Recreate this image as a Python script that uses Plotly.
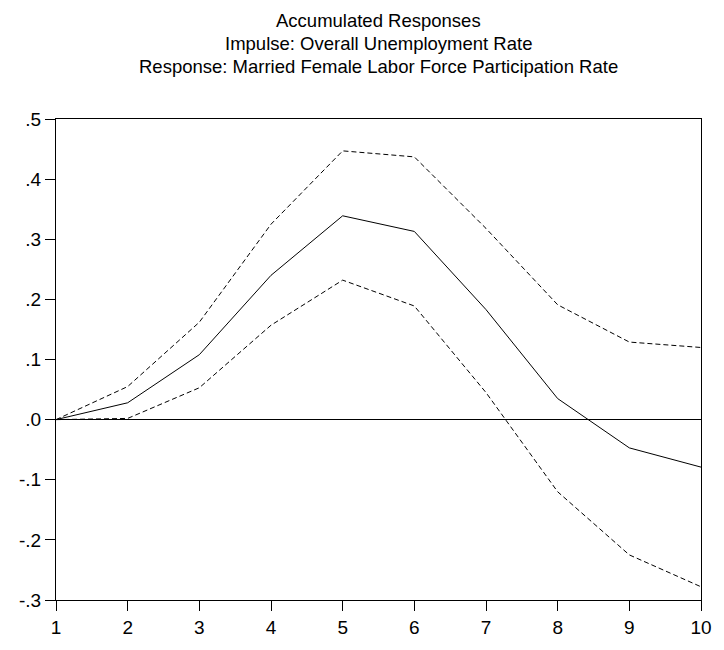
import plotly.graph_objects as go

periods = [1, 2, 3, 4, 5, 6, 7, 8, 9, 10]
response = [0.0, 0.028, 0.108, 0.240, 0.339, 0.313, 0.183, 0.035, -0.047, -0.079]
upper = [0.0, 0.055, 0.162, 0.325, 0.447, 0.437, 0.318, 0.191, 0.129, 0.120]
lower = [0.0, 0.002, 0.053, 0.157, 0.232, 0.189, 0.045, -0.120, -0.225, -0.278]

ytick_vals = [0.5, 0.4, 0.3, 0.2, 0.1, 0.0, -0.1, -0.2, -0.3]
ytick_text = [".5", ".4", ".3", ".2", ".1", ".0", "-.1", "-.2", "-.3"]

title_lines = [
    "Accumulated Responses",
    "Impulse: Overall Unemployment Rate",
    "Response: Married Female Labor Force Participation Rate",
]

fig = go.Figure()
fig.add_trace(go.Scatter(x=periods, y=upper, mode="lines",
                         line=dict(color="black", width=1, dash="5px,3px"),
                         showlegend=False, hoverinfo="skip"))
fig.add_trace(go.Scatter(x=periods, y=response, mode="lines",
                         line=dict(color="black", width=1),
                         showlegend=False))
fig.add_trace(go.Scatter(x=periods, y=lower, mode="lines",
                         line=dict(color="black", width=1, dash="5px,3px"),
                         showlegend=False, hoverinfo="skip"))

shifts = [99, 76, 53]
annotations = [dict(text=t, xref="paper", yref="paper", x=0.5, y=1,
                    xanchor="center", yanchor="middle", yshift=s,
                    showarrow=False, font=dict(size=18.5, color="black"))
               for t, s in zip(title_lines, shifts)]

fig.update_layout(
    width=724, height=650,
    margin=dict(l=56, r=17, t=119, b=42),
    paper_bgcolor="white", plot_bgcolor="white",
    font=dict(family="Liberation Sans, Arial, sans-serif", color="black"),
    annotations=annotations,
)
fig.update_xaxes(range=[1, 10], tickvals=periods, ticktext=[str(p) for p in periods],
                 showgrid=False, zeroline=False, showline=True, linecolor="black",
                 linewidth=1, mirror=True, ticks="outside", ticklen=10,
                 tickcolor="black", tickfont=dict(size=19))
fig.update_yaxes(range=[-0.3, 0.5], tickvals=ytick_vals, ticktext=ytick_text,
                 showgrid=False, zeroline=True, zerolinecolor="black", zerolinewidth=1,
                 showline=True, linecolor="black", linewidth=1, mirror=True,
                 ticks="outside", ticklen=10, tickcolor="black", tickfont=dict(size=19))

fig.write_html("out.html", config={"displayModeBar": False},
               post_script="document.body.style.margin='0';document.body.style.overflow='hidden';")
